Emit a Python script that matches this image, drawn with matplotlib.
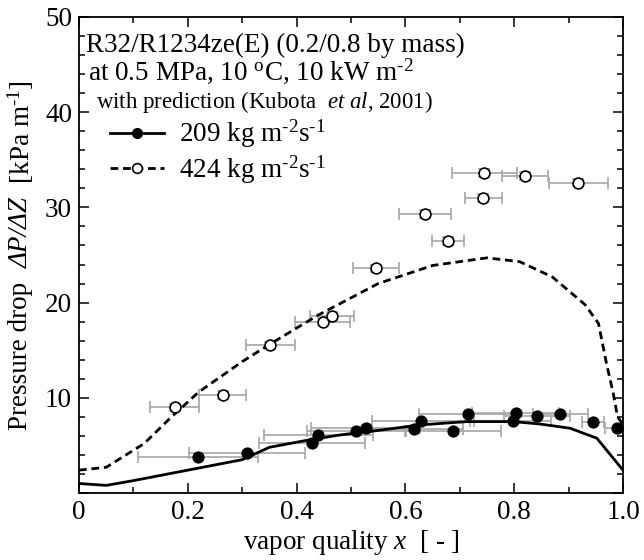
import matplotlib
matplotlib.use("Agg")
import matplotlib.pyplot as plt
from matplotlib.ticker import MultipleLocator, FixedLocator

plt.rcParams["font.family"] = ["Liberation Serif", "DejaVu Serif"]
plt.rcParams["mathtext.fontset"] = "custom"
plt.rcParams["mathtext.rm"] = "Liberation Serif"
plt.rcParams["mathtext.it"] = "Liberation Serif:italic"
plt.rcParams["mathtext.bf"] = "Liberation Serif:bold"

# measured points, G = 209 kg m-2 s-1
x209 = [0.219, 0.309, 0.428, 0.440, 0.509, 0.527, 0.616, 0.628, 0.688, 0.715,
        0.797, 0.803, 0.842, 0.885, 0.945, 0.989]
y209 = [3.75, 4.17, 5.3, 6.1, 6.55, 6.85, 6.76, 7.6, 6.55, 8.27,
        7.6, 8.38, 8.06, 8.27, 7.43, 6.83]
xerr209 = [0.11, 0.106, 0.098, 0.10, 0.09, 0.10, 0.09, 0.09, 0.087, 0.09,
           0.07, 0.08, 0.06, 0.05, 0.02, 0.022]

# measured points, G = 424 kg m-2 s-1
x424 = [0.176, 0.264, 0.352, 0.448, 0.465, 0.546, 0.636, 0.678, 0.743, 0.745, 0.820, 0.918]
y424 = [9.0, 10.3, 15.5, 18.0, 18.6, 23.6, 29.3, 26.5, 31.0, 33.6, 33.3, 32.6]
xerr424 = [0.045, 0.043, 0.045, 0.051, 0.040, 0.042, 0.047, 0.030, 0.034, 0.060, 0.043, 0.054]
yerr424 = [0.4, 0.4, 0.4, 0.4, 0.4, 0.4, 0.4, 0.4, 0.4, 0.4, 0.4, 0.4]

# prediction (Kubota et al, 2001)
xp209 = [0.0, 0.05, 0.10, 0.20, 0.30, 0.35, 0.425, 0.48, 0.54, 0.627, 0.713, 0.798,
         0.847, 0.903, 0.952, 1.0]
yp209 = [1.0, 0.8, 1.3, 2.4, 3.5, 4.8, 5.6, 6.1, 6.5, 7.15, 7.5, 7.5, 7.25, 6.8, 5.75, 2.4]

xp424 = [0.0, 0.05, 0.12, 0.17, 0.22, 0.30, 0.35, 0.44, 0.55, 0.65, 0.75, 0.81, 0.87,
         0.93, 0.955, 0.97, 0.982, 0.99, 1.0]
yp424 = [2.4, 2.7, 5.2, 8.0, 10.6, 13.8, 15.6, 18.7, 22.0, 23.9, 24.7, 24.3, 22.7,
         19.8, 17.8, 13.5, 10.5, 8.0, 7.2]

FS = 19.5
DASH = (0, (2.8, 1.7))
fig = plt.figure(figsize=(6.44, 5.6), dpi=100)
ax = fig.add_axes([79 / 644, 1 - 493 / 560, 544 / 644, 476 / 560])

ebkw = dict(fmt="none", ecolor="#a6a6a6", elinewidth=1.2, capsize=4, capthick=1.2, zorder=2)
ax.errorbar(x209, y209, xerr=xerr209, **ebkw)
ax.errorbar(x424, y424, xerr=xerr424, yerr=yerr424, **ebkw)

ax.plot(xp209, yp209, color="black", lw=2.0, zorder=3)
ax.plot(xp424, yp424, color="black", lw=2.0, ls=DASH, zorder=3)

ax.plot(x209, y209, "o", ms=7.8, mfc="black", mec="black", zorder=4)
ax.plot(x424, y424, "o", ms=7.8, mfc="white", mec="black", mew=1.2, zorder=4)

# legend handles
h1, = ax.plot([], [], color="black", lw=2.0, marker="o", ms=7, mfc="black", mec="black")
h2, = ax.plot([], [], color="black", lw=2.0, ls=DASH, marker="o", ms=7,
              mfc="white", mec="black", mew=1.2)
ax.legend([h1, h2], [r"209 kg m$^{\text{-2}}$s$^{\text{-1}}$", r"424 kg m$^{\text{-2}}$s$^{\text{-1}}$"],
          loc="upper left", bbox_to_anchor=(0.057, 0.788), frameon=False,
          fontsize=FS, handlelength=2.0, handletextpad=0.55, labelspacing=0.1,
          borderpad=0, borderaxespad=0)

ax.text(0.013, 0.926, "R32/R1234ze(E) (0.2/0.8 by mass)", transform=ax.transAxes,
        fontsize=FS, va="baseline", ha="left")
ax.text(0.016, 0.868, r"at 0.5 MPa, 10 $^{\mathrm{o}}$C, 10 kW m$^{\text{-2}}$", transform=ax.transAxes,
        fontsize=FS, va="baseline", ha="left")
ax.text(0.032, 0.809, r"with prediction (Kubota  $\mathit{et\ al}$, 2001)", transform=ax.transAxes,
        fontsize=16.5, va="baseline", ha="left")

ax.set_xlim(0, 1.0)
ax.set_ylim(0, 50)
ax.xaxis.set_major_locator(FixedLocator([0, 0.2, 0.4, 0.6, 0.8, 1.0]))
ax.xaxis.set_minor_locator(MultipleLocator(0.1))
ax.yaxis.set_major_locator(FixedLocator([0, 10, 20, 30, 40, 50]))
ax.yaxis.set_minor_locator(MultipleLocator(2))
ax.set_xticklabels(["0", "0.2", "0.4", "0.6", "0.8", "1.0"])
ax.set_yticklabels(["", "10", "20", "30", "40", "50"])
ax.tick_params(which="both", direction="in", top=True, right=True, labelsize=FS, width=1.1)
ax.tick_params(which="major", length=7, pad=5)
ax.tick_params(which="minor", length=4)
for s in ax.spines.values():
    s.set_linewidth(1.3)

ax.set_xlabel(r"vapor quality $x$  [ - ]", fontsize=FS, labelpad=2)

# y label in three pieces so that the Greek Delta can be italic
parts = [("Pressure drop  ", "normal"), ("\u0394P/\u0394Z", "italic"),
         ("  [kPa m$^{\\text{-1}}$]", "normal")]
renderer = fig.canvas.get_renderer()
texts = [fig.text(0, 0, s, rotation=90, fontsize=FS, fontstyle=st,
                  ha="center", va="bottom", rotation_mode="default") for s, st in parts]
heights = [t.get_window_extent(renderer).height for t in texts]
ax_bb = ax.get_window_extent(renderer)
y_start = (ax_bb.y0 + ax_bb.y1) / 2 - sum(heights) / 2
x_px = 21
for t, h in zip(texts, heights):
    t.set_position((x_px / fig.bbox.width, y_start / fig.bbox.height))
    y_start += h

fig.savefig("out.png", dpi=100)
